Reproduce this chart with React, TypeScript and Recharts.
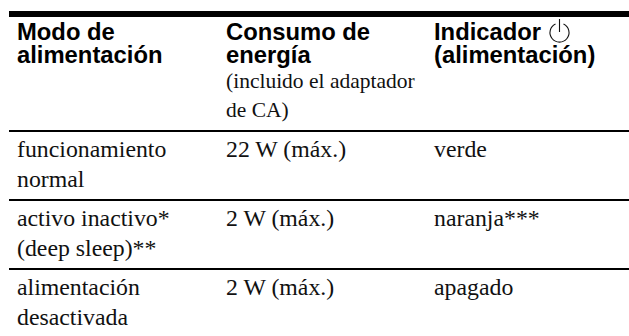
import { ScatterChart, Scatter, XAxis, YAxis, ReferenceLine } from 'recharts';

const W = 629;
const H = 336;

// table text, one entry per printed line
const headerCol1 = ['Modo de', 'alimentación'];
const headerCol2 = ['Consumo de', 'energía'];
const headerCol3 = ['Indicador', '(alimentación)'];
const headerNote = ['(incluido el adaptador', 'de CA)'];
const rowCol1 = [['funcionamiento', 'normal'], ['activo inactivo*', '(deep sleep)**'], ['alimentación', 'desactivada']];
const rowCol2 = ['22 W (máx.)', '2 W (máx.)', '2 W (máx.)'];
const rowCol3 = ['verde', 'naranja***', 'apagado'];

const COL_X = [17, 226, 434];
const HEADER_BASE = 40;
const HEADER_GAP = 23;
const NOTE_BASE = [88, 117];
const ROW_BASE = [157, 226, 295];
const LINE_GAP = 30;
const RULES = [131, 200, 269];

type Cell = { x: number; y: number; lines: string[] };

// header cells keep their two tight lines in one text element
const boldCells: Cell[] = [headerCol1, headerCol2, headerCol3].map((lines, c) => ({ x: COL_X[c], y: HEADER_BASE, lines }));
const noteCells: Cell[] = headerNote.map((text, i) => ({ x: COL_X[1], y: NOTE_BASE[i], lines: [text] }));
const serifCells: Cell[] = [
  ...rowCol1.flatMap((lines, r) => lines.map((text, i) => ({ x: COL_X[0], y: ROW_BASE[r] + i * LINE_GAP, lines: [text] }))),
  ...rowCol2.map((text, r) => ({ x: COL_X[1], y: ROW_BASE[r], lines: [text] })),
  ...rowCol3.map((text, r) => ({ x: COL_X[2], y: ROW_BASE[r], lines: [text] })),
];
const iconPoint = [{ x: 559.5, y: 32 }];

const BoldText = (p: any) => (
  <text x={p.cx} y={p.cy} fontFamily="Liberation Sans" fontWeight={700} fontSize={23.8} fill="#000">
    {p.payload.lines.map((line: string, i: number) => (
      <tspan key={i} x={p.cx} dy={i === 0 ? 0 : HEADER_GAP}>{line}</tspan>
    ))}
  </text>
);
const SerifText = (p: any) => (
  <text x={p.cx} y={p.cy} fontFamily="Liberation Serif" fontSize={23.8} fill="#111">
    {p.payload.lines[0]}
  </text>
);
const NoteText = (p: any) => (
  <text x={p.cx} y={p.cy} fontFamily="Liberation Serif" fontSize={21.5} fill="#111">
    {p.payload.lines[0]}
  </text>
);
const PowerIcon = (p: any) => (
  <g fill="none" stroke="#111" strokeWidth={1.1}>
    <path d={`M ${p.cx - 4} ${p.cy - 8} A 9.5 9.5 0 1 0 ${p.cx + 4} ${p.cy - 8}`} />
    <path d={`M ${p.cx} ${p.cy - 13} V ${p.cy}`} />
  </g>
);

export default function App() {
  return (
    <div style={{ position: 'absolute', left: 0, top: 0, background: '#fff' }}>
      <ScatterChart width={W} height={H} margin={{ left: 0, right: 0, top: 0, bottom: 0 }}>
        <XAxis type="number" dataKey="x" domain={[0, W]} hide />
        <YAxis type="number" dataKey="y" domain={[0, H]} reversed hide />
        <ReferenceLine segment={[{ x: 9, y: 14 }, { x: W, y: 14 }]} stroke="#000" strokeWidth={6} />
        {RULES.map((y) => (
          <ReferenceLine key={y} segment={[{ x: 9, y }, { x: W, y }]} stroke="#000" strokeWidth={2} />
        ))}
        <Scatter data={boldCells} shape={BoldText} isAnimationActive={false} />
        <Scatter data={noteCells} shape={NoteText} isAnimationActive={false} />
        <Scatter data={serifCells} shape={SerifText} isAnimationActive={false} />
        <Scatter data={iconPoint} shape={PowerIcon} isAnimationActive={false} />
      </ScatterChart>
    </div>
  );
}
